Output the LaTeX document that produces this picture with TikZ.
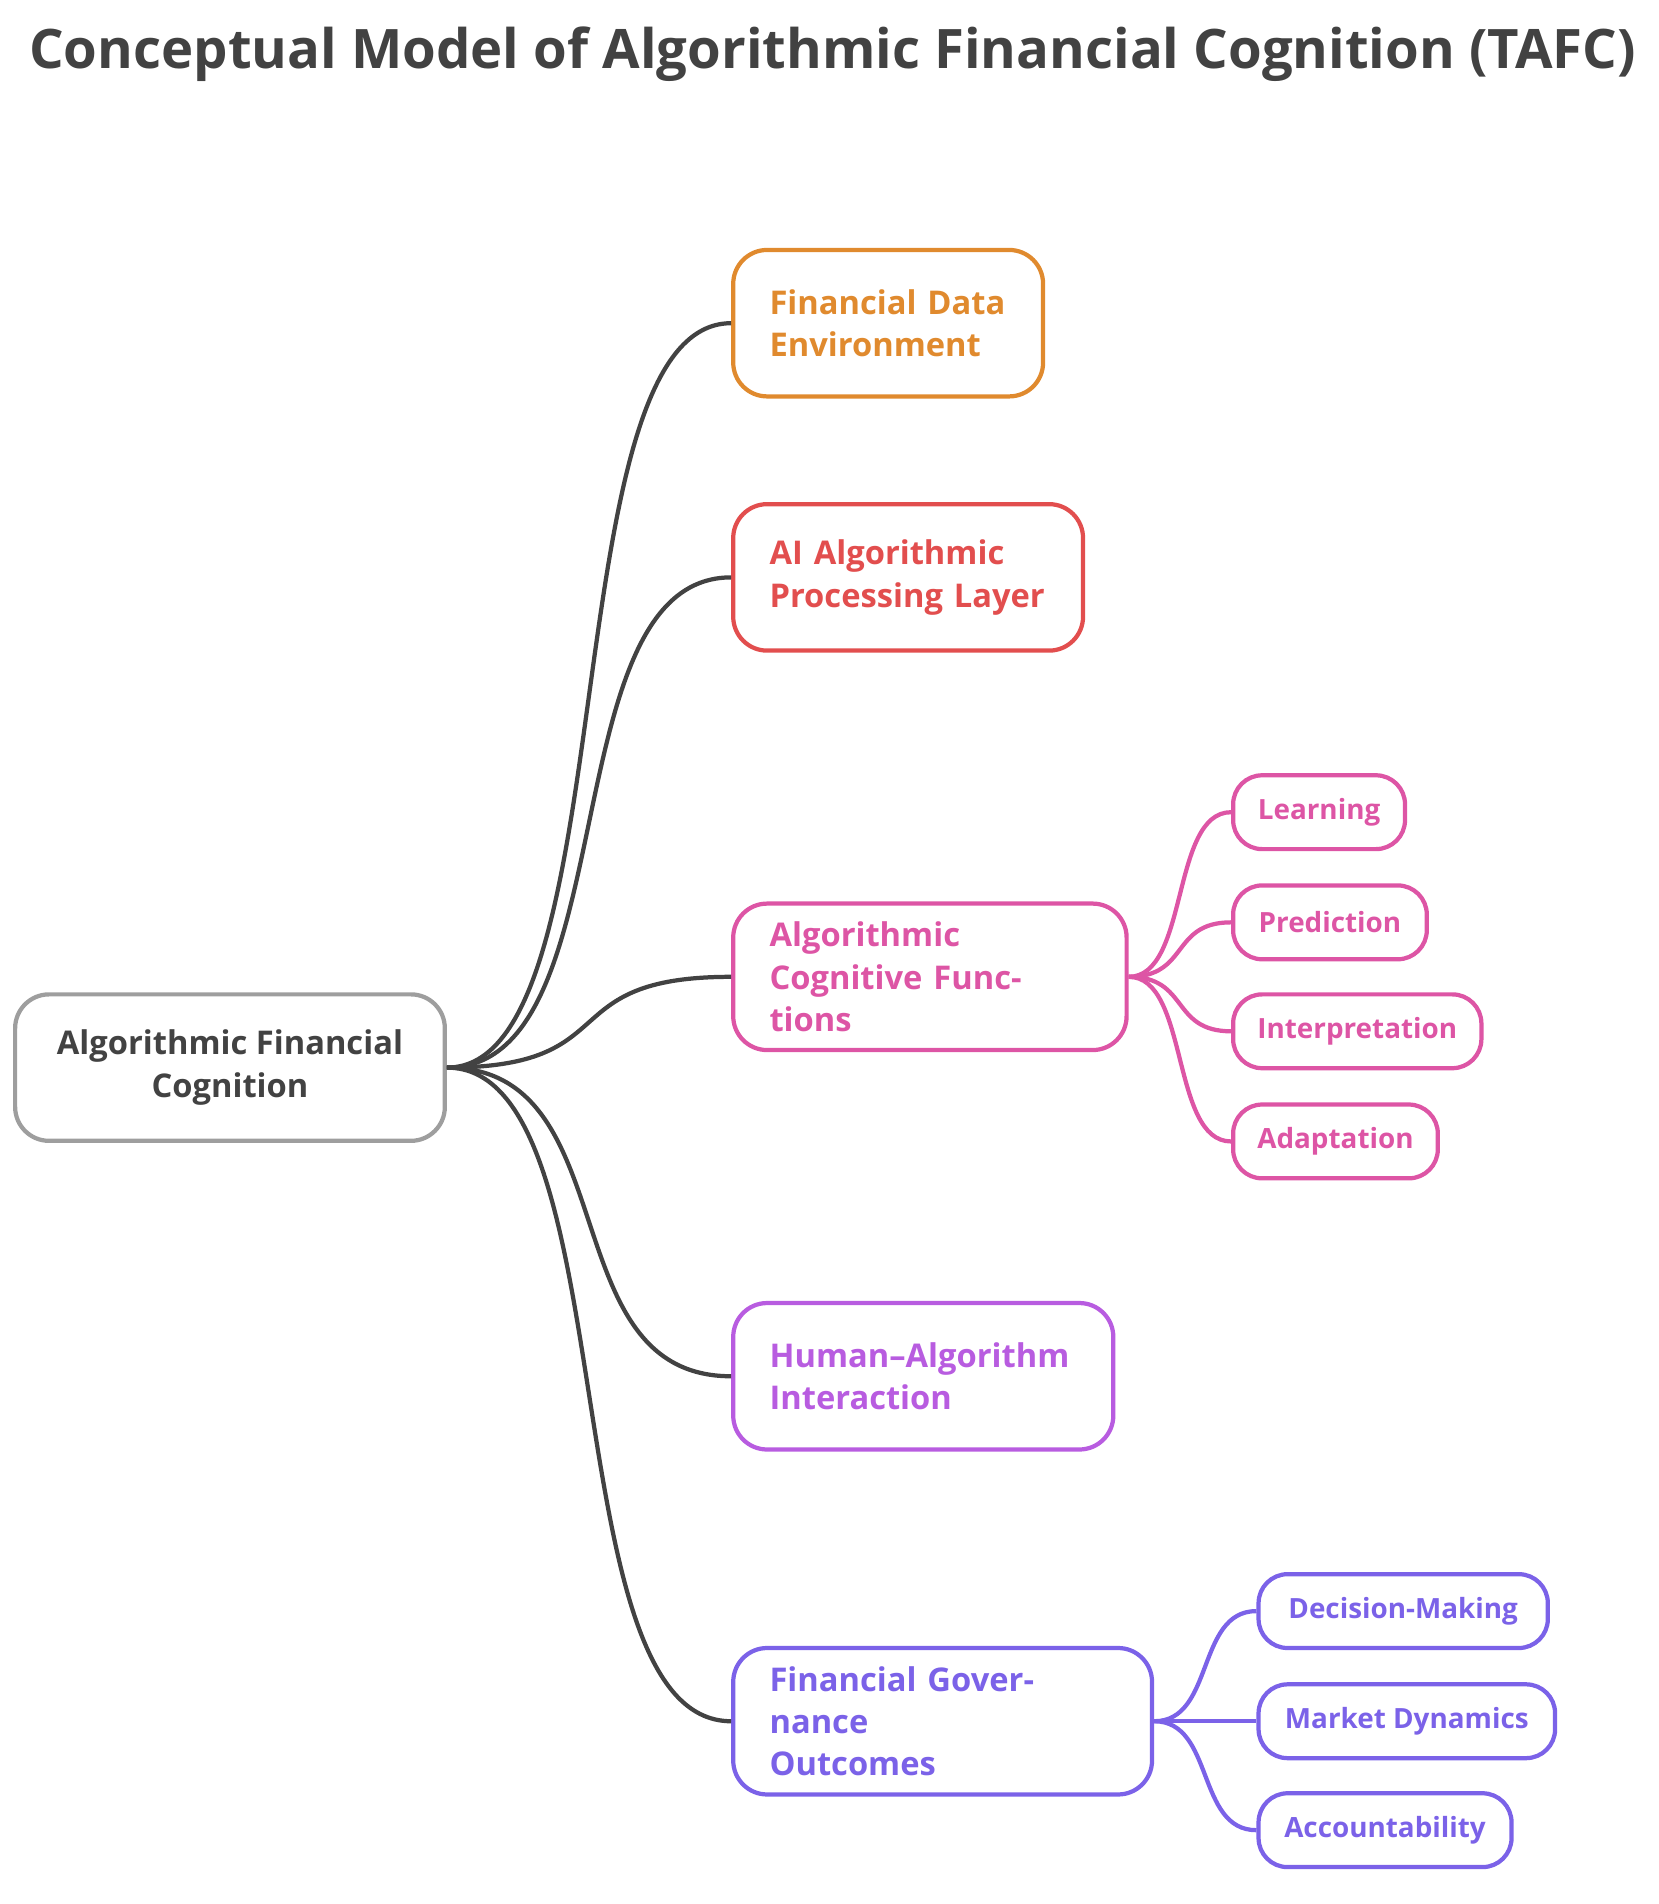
\documentclass[tikz,border=0pt]{standalone}
\usepackage{fontspec}
\setmainfont{Open Sans}
\definecolor{cGray}{HTML}{9E9E9E}
\definecolor{cDark}{HTML}{424242}
\definecolor{cOrange}{HTML}{E08A2E}
\definecolor{cRed}{HTML}{E24E4E}
\definecolor{cPink}{HTML}{DD55A5}
\definecolor{cPurple}{HTML}{B85CE0}
\definecolor{cViolet}{HTML}{7B62E8}
\begin{document}
\begin{tikzpicture}
        [x=1pt,y=-1pt,
        box/.style={draw,rounded corners=28pt,line width=3.5pt,minimum height=121pt,
            inner xsep=30pt,align=left,font=\fontsize{27}{35}\selectfont\bfseries},
        leaf/.style={draw,rounded corners=24pt,line width=3.5pt,minimum height=61pt,
            inner xsep=20pt,font=\fontsize{23}{28}\selectfont\bfseries},
        link/.style={line width=3.5pt}]
        \useasboundingbox (0,0) rectangle (1370,1573);
        \node[text=cDark,font=\fontsize{45}{54}\selectfont\bfseries] (title) at (688,45) {Conceptual Model of Algorithmic Financial Cognition (TAFC)};
        
        \node[box,draw=cGray,text=cDark,align=center,minimum width=355pt] (root) at (190,882) {Algorithmic Financial\\Cognition};
        
        \node[box,draw=cOrange,text=cOrange,anchor=west,text width=196pt] (data) at (604,267) {Financial Data\\Environment};
        \node[box,draw=cRed,text=cRed,anchor=west,text width=229pt] (proc) at (604,477) {AI Algorithmic\\Processing Layer};
        \node[box,draw=cPink,text=cPink,anchor=west,text width=265pt] (cogn) at (604,807) {Algorithmic\\Cognitive Functions};
        \node[box,draw=cPurple,text=cPurple,anchor=west,text width=254pt] (human) at (604,1137) {Human--Algorithm\\Interaction};
        \node[box,draw=cViolet,text=cViolet,anchor=west,text width=286pt] (gov) at (604,1422) {Financial Governance\\Outcomes};
        
        \node[leaf,draw=cPink,text=cPink,anchor=west,minimum width=142pt] (learn) at (1017,671) {Learning};
        \node[leaf,draw=cPink,text=cPink,anchor=west,minimum width=160pt] (pred) at (1017,762) {Prediction};
        \node[leaf,draw=cPink,text=cPink,anchor=west,minimum width=200pt] (interp) at (1017,852) {Interpretation};
        \node[leaf,draw=cPink,text=cPink,anchor=west,minimum width=168pt] (adapt) at (1017,943) {Adaptation};
        
        \node[leaf,draw=cViolet,text=cViolet,anchor=west,minimum width=239pt] (decis) at (1038,1331) {Decision-Making};
        \node[leaf,draw=cViolet,text=cViolet,anchor=west,minimum width=245pt] (market) at (1038,1422) {Market Dynamics};
        \node[leaf,draw=cViolet,text=cViolet,anchor=west,minimum width=209pt] (account) at (1038,1512) {Accountability};
        
        \foreach \n in {data,proc,cogn,human,gov}
            \draw[link,cDark] (root.east) .. controls +(150,0) and +(-150,0) .. (\n.west);
        \foreach \n in {learn,pred,interp,adapt}
            \draw[link,cPink] (cogn.east) .. controls +(50,0) and +(-50,0) .. (\n.west);
        \foreach \n in {decis,market,account}
            \draw[link,cViolet] (gov.east) .. controls +(50,0) and +(-50,0) .. (\n.west);
    
    \end{tikzpicture}
\end{document}
